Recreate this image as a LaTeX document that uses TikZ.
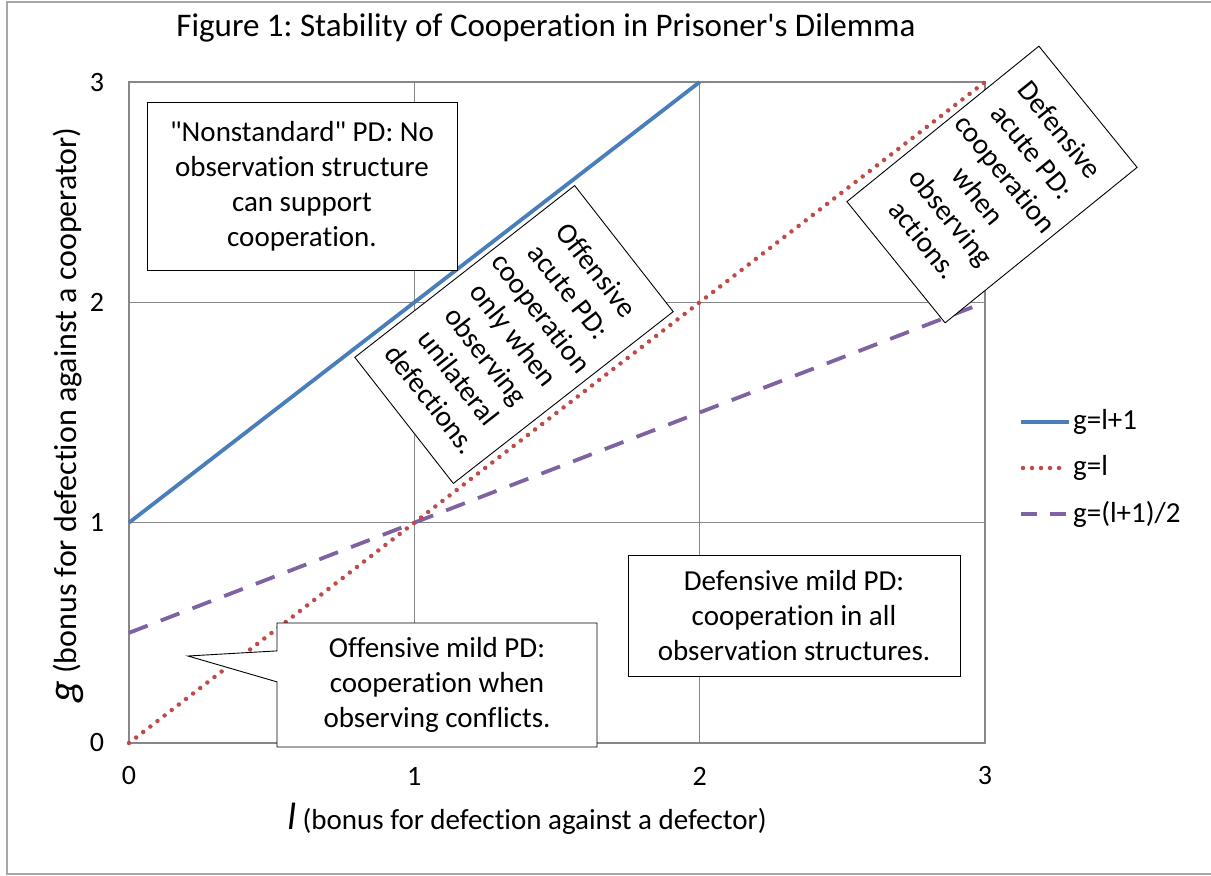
\documentclass[tikz,border=0pt]{standalone}
\usepackage{fontspec}
\setmainfont{Carlito}[Ligatures={TeXOff,NoCommon}]
\usetikzlibrary{shapes.callouts}
\definecolor{serblue}{HTML}{4A7EBB}
\definecolor{serred}{HTML}{BE4B48}
\definecolor{serpurple}{HTML}{7E62A1}
\definecolor{gridgray}{HTML}{878787}
\definecolor{framegray}{HTML}{A6A6A6}
\frenchspacing
\begin{document}
\begin{tikzpicture}[x=1pt,y=-1pt,
  txt/.style={font=\fontsize{29}{35}\selectfont, inner sep=0pt},
  box/.style={draw=black, line width=0.9pt, fill=white, align=center, font=\fontsize{29}{35}\selectfont, inner sep=0pt},
  tick/.style={font=\fontsize{28}{34}\selectfont, inner sep=0pt},
  gridline/.style={draw=gridgray, line width=1.2pt},
  blueline/.style={draw=serblue, line width=3.8pt},
  redline/.style={draw=serred, line width=4.5pt, line cap=round, dash pattern=on 0pt off 9pt},
  purpleline/.style={draw=serpurple, line width=3.8pt, dash pattern=on 20pt off 14pt},
]
\useasboundingbox (0,0) rectangle (1211,876);
\fill[white] (0,0) rectangle (1211,876);
\draw[framegray, line width=1.2pt] (1211,2) -- (7,2) -- (7,874) -- (1211,874);

% title
\node[font=\fontsize{33}{38}\selectfont, inner sep=0pt] (title) at (546,28) {Figure 1: Stability of Cooperation in Prisoner's Dilemma};

% plot area
\begin{scope}[shift={(129,743)}, x=285.33pt, y=220.33pt]
  \draw[gridline] (0,0) rectangle (3,3);
  \foreach \i in {1,2} {
    \draw[gridline] (\i,0) -- (\i,3);
    \draw[gridline] (0,\i) -- (3,\i);
  }
  \draw[blueline] (0,1) -- (2,3);
  \draw[purpleline] (0,0.5) -- (3,2);
  \draw[redline] (0,0) -- (3,3);
\end{scope}

% tick labels
\foreach \i in {0,1,2,3} {
  \node[tick] (xt\i) at ({129+285.33*\i},776) {\i};
  \node[tick] (yt\i) at (97,{743-220.33*\i}) {\i};
}

% axis titles
\node[txt, anchor=base] (xtitle) at (527,829) {{\fontsize{38}{38}\selectfont\itshape l} (bonus for defection against a defector)};
\node[txt, rotate=90, anchor=base, font=\fontsize{32}{38}\selectfont] (ytitle) at (76,415) {{\fontsize{42}{42}\selectfont\itshape g} (bonus for defection against a cooperator)};

% boxes
\node[box, minimum width=310pt, minimum height=168pt] (ns) at (302,186)
  {"Nonstandard" PD: No\\observation structure\\can support\\cooperation.};
\node[box, minimum width=332pt, minimum height=121pt] (dm) at (794,615.5)
  {Defensive mild PD:\\cooperation in all\\observation structures.};
\coordinate (omtip) at (188,656);
\node[box, rectangle callout, callout absolute pointer={(omtip)}, callout pointer width=31pt,
  minimum width=320pt, minimum height=124pt] (om) at (437,685)
  {Offensive mild PD:\\cooperation when\\observing conflicts.};
\node[box, rotate=-52, minimum width=160pt, minimum height=279pt] (oa) at (514,334.5)
  {Offensive\\acute PD:\\cooperation\\only when\\observing\\unilateral\\defections.};
\node[box, rotate=-51, minimum width=156pt, minimum height=247pt] (da) at (992,184.5)
  {Defensive\\acute PD:\\cooperation\\when\\observing\\actions.};

% legend
\draw[blueline] (1021,422) -- (1069,422);
\node[txt, anchor=west] (l1) at (1073,422) {g=l+1};
\draw[redline] (1023,468) -- (1066,468);
\node[txt, anchor=west] (l2) at (1073,468) {g=l};
\draw[purpleline, dash pattern=on 16pt off 13pt] (1021,514) -- (1067,514);
\node[txt, anchor=west] (l3) at (1073,514) {g=(l+1)/2};
\end{tikzpicture}
\end{document}
